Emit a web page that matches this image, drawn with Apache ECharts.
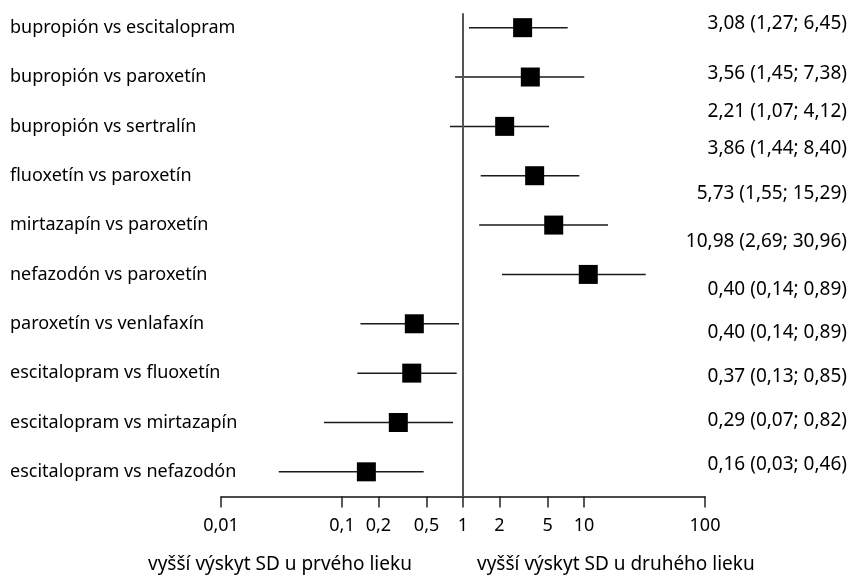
<!DOCTYPE html>
<html><head><meta charset="utf-8">
<script src="https://cdn.jsdelivr.net/npm/echarts@6/dist/echarts.min.js"></script>
<style>html,body{margin:0;padding:0;background:#fff}#c{width:851px;height:577px}</style>
</head><body><div id="c"></div>
<script>
// ---- data ----
const categories = [
  'bupropión vs escitalopram', 'bupropión vs paroxetín', 'bupropión vs sertralín',
  'fluoxetín vs paroxetín', 'mirtazapín vs paroxetín', 'nefazodón vs paroxetín',
  'paroxetín vs venlafaxín', 'escitalopram vs fluoxetín', 'escitalopram vs mirtazapín',
  'escitalopram vs nefazodón'
];
const estimates = [3.11, 3.60, 2.21, 3.91, 5.62, 10.85, 0.396, 0.377, 0.292, 0.159];
const lowerCI   = [1.12, 0.86, 0.78, 1.40, 1.36, 2.10, 0.142, 0.134, 0.071, 0.030];
const upperCI   = [7.33, 10.05, 5.14, 9.15, 15.8, 32.4, 0.927, 0.887, 0.827, 0.473];
const resultTexts = [
  '3,08 (1,27; 6,45)', '3,56 (1,45; 7,38)', '2,21 (1,07; 4,12)', '3,86 (1,44; 8,40)',
  '5,73 (1,55; 15,29)', '10,98 (2,69; 30,96)', '0,40 (0,14; 0,89)', '0,40 (0,14; 0,89)',
  '0,37 (0,13; 0,85)', '0,29 (0,07; 0,82)', '0,16 (0,03; 0,46)'
];
const tickValues = [0.01, 0.1, 0.2, 0.5, 1, 2, 5, 10, 100];
const axisTitles = ['vyšší výskyt SD u prvého lieku', 'vyšší výskyt SD u druhého lieku'];
const referenceValue = 1;

// ---- layout (not data) ----
const FONT = '"Noto Sans", sans-serif';
const resultTextY = [26.7, 76.7, 115, 151.7, 196.7, 245, 293.3, 336, 380, 424, 468.3];
const refLineTop = -0.29;

const chart = echarts.init(document.getElementById('c'), null, {renderer: 'canvas'});

const forestData = categories.map((c, i) => [lowerCI[i], upperCI[i], estimates[i], i]);

const graphics = resultTexts.map((t, i) => ({
  type: 'text', right: 4, top: resultTextY[i] - 13,
  style: {text: t, font: '19px ' + FONT, fill: '#000', textAlign: 'right'}
}));
graphics.push({type: 'text', left: 148, top: 555, style: {text: axisTitles[0], font: '19px ' + FONT, fill: '#000'}});
graphics.push({type: 'text', left: 477, top: 555, style: {text: axisTitles[1], font: '19px ' + FONT, fill: '#000'}});

chart.setOption({
  animation: false,
  backgroundColor: '#fff',
  grid: {left: 221, right: 146, top: 3, height: 493.5},
  xAxis: {
    type: 'log', logBase: 10, min: 0.01, max: 100,
    axisLine: {show: true, onZero: false, lineStyle: {color: '#111', width: 1.5}},
    axisTick: {show: true, length: 11, lineStyle: {color: '#222', width: 1.5}, customValues: tickValues},
    minorTick: {show: false},
    axisLabel: {customValues: tickValues, formatter: v => String(v).replace('.', ','),
      fontFamily: FONT, fontSize: 18, color: '#000', margin: 20},
    splitLine: {show: false}
  },
  yAxis: [{
    type: 'category', inverse: true, data: categories,
    axisLine: {show: false}, axisTick: {show: false}, splitLine: {show: false},
    axisLabel: {align: 'left', margin: 211, fontFamily: FONT, fontSize: 18, color: '#000'}
  }, {
    type: 'value', inverse: true, min: -0.5, max: 9.5, show: false
  }],
  series: [{
    type: 'line', yAxisIndex: 1, symbol: 'none', silent: true,
    data: [[referenceValue, refLineTop], [referenceValue, 9.5]],
    lineStyle: {color: '#555', width: 2}
  }, {
    type: 'custom', yAxisIndex: 0,
    encode: {x: [0, 1, 2], y: 3},
    data: forestData,
    renderItem: function (params, api) {
      const y = api.value(3);
      const lo = api.coord([api.value(0), y]);
      const hi = api.coord([api.value(1), y]);
      const c = api.coord([api.value(2), y]);
      const s = 19;
      return {type: 'group', children: [
        {type: 'line', shape: {x1: lo[0], y1: lo[1], x2: hi[0], y2: hi[1]}, style: {stroke: '#1a1a1a', lineWidth: 1.5}},
        {type: 'rect', shape: {x: c[0] - s / 2, y: c[1] - s / 2, width: s, height: s}, style: {fill: '#000'}}
      ]};
    }
  }],
  graphic: graphics
});
</script>
</body></html>
